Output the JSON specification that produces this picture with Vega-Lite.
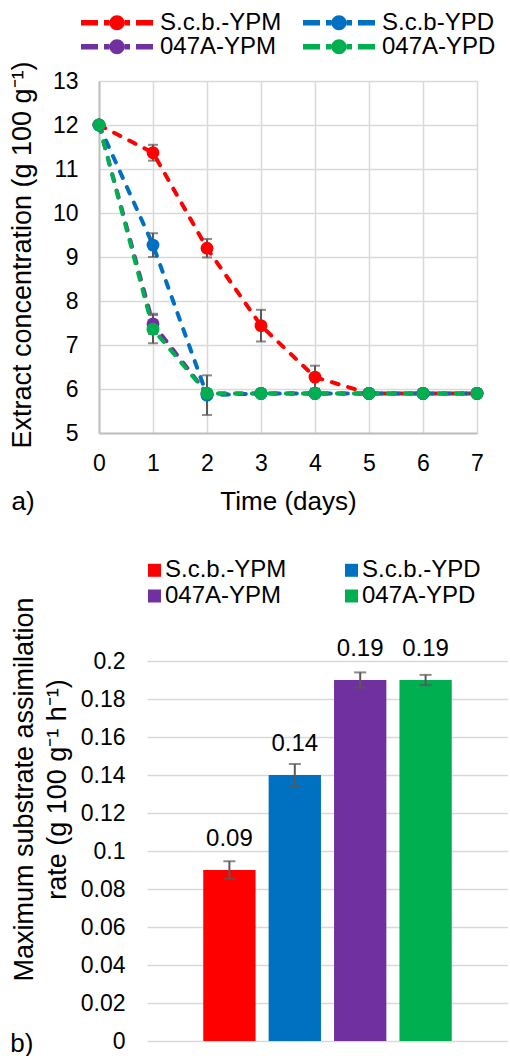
{
  "$schema": "https://vega.github.io/schema/vega-lite/v6.json",
  "padding": {"left": 8, "top": 10, "right": 0, "bottom": 0},
  "background": "white",
  "datasets": {
    "lines": [
      {"day": 0, "series": "S.c.b.-YPM", "value": 12, "err": 0},
      {"day": 1, "series": "S.c.b.-YPM", "value": 11.37, "err": 0.18},
      {"day": 2, "series": "S.c.b.-YPM", "value": 9.2, "err": 0.21},
      {"day": 3, "series": "S.c.b.-YPM", "value": 7.44, "err": 0.36},
      {"day": 4, "series": "S.c.b.-YPM", "value": 6.27, "err": 0.26},
      {"day": 5, "series": "S.c.b.-YPM", "value": 5.9, "err": 0},
      {"day": 6, "series": "S.c.b.-YPM", "value": 5.9, "err": 0},
      {"day": 7, "series": "S.c.b.-YPM", "value": 5.9, "err": 0},
      {"day": 0, "series": "S.c.b-YPD", "value": 12, "err": 0},
      {"day": 1, "series": "S.c.b-YPD", "value": 9.27, "err": 0.27},
      {"day": 2, "series": "S.c.b-YPD", "value": 5.86, "err": 0.45},
      {"day": 3, "series": "S.c.b-YPD", "value": 5.9, "err": 0},
      {"day": 4, "series": "S.c.b-YPD", "value": 5.9, "err": 0},
      {"day": 5, "series": "S.c.b-YPD", "value": 5.9, "err": 0},
      {"day": 6, "series": "S.c.b-YPD", "value": 5.9, "err": 0},
      {"day": 7, "series": "S.c.b-YPD", "value": 5.9, "err": 0},
      {"day": 0, "series": "047A-YPM", "value": 12, "err": 0},
      {"day": 1, "series": "047A-YPM", "value": 7.48, "err": 0.23},
      {"day": 2, "series": "047A-YPM", "value": 5.9, "err": 0},
      {"day": 3, "series": "047A-YPM", "value": 5.9, "err": 0},
      {"day": 4, "series": "047A-YPM", "value": 5.9, "err": 0},
      {"day": 5, "series": "047A-YPM", "value": 5.9, "err": 0},
      {"day": 6, "series": "047A-YPM", "value": 5.9, "err": 0},
      {"day": 7, "series": "047A-YPM", "value": 5.9, "err": 0},
      {"day": 0, "series": "047A-YPD", "value": 12, "err": 0},
      {"day": 1, "series": "047A-YPD", "value": 7.36, "err": 0.32},
      {"day": 2, "series": "047A-YPD", "value": 5.9, "err": 0},
      {"day": 3, "series": "047A-YPD", "value": 5.9, "err": 0},
      {"day": 4, "series": "047A-YPD", "value": 5.9, "err": 0},
      {"day": 5, "series": "047A-YPD", "value": 5.9, "err": 0},
      {"day": 6, "series": "047A-YPD", "value": 5.9, "err": 0},
      {"day": 7, "series": "047A-YPD", "value": 5.9, "err": 0}
    ],
    "bars": [
      {"series": "S.c.b.-YPM", "value": 0.09, "err": 0.0046},
      {"series": "S.c.b.-YPD", "value": 0.14, "err": 0.0058},
      {"series": "047A-YPM", "value": 0.19, "err": 0.004},
      {"series": "047A-YPD", "value": 0.19, "err": 0.0027}
    ]
  },
  "config": {
    "font": "Liberation Sans",
    "view": {"stroke": null},
    "axis": {
      "labelFont": "Liberation Sans",
      "titleFont": "Liberation Sans",
      "labelFontSize": 23,
      "titleFontSize": 27,
      "labelColor": "#000000",
      "titleColor": "#000000",
      "titleFontWeight": "normal",
      "gridColor": "#d9d9d9",
      "gridWidth": 1.5,
      "ticks": false,
      "tickSize": 0,
      "domainColor": "#bfbfbf",
      "domainWidth": 2,
      "labelOverlap": false
    },
    "legend": {
      "labelFont": "Liberation Sans",
      "labelFontSize": 24,
      "labelColor": "#000000",
      "labelLimit": 400
    },
    "title": {"font": "Liberation Sans", "fontSize": 26, "fontWeight": "normal", "color": "#000000"}
  },
  "columns": 1,
  "align": "none",
  "bounds": "full",
  "spacing": 43,
  "resolve": {"scale": {"color": "independent"}, "legend": {"color": "independent"}},
  "concat": [
    {
      "width": 378,
      "height": 352,
      "data": {"name": "lines"},
      "title": {"text": "a)", "orient": "bottom", "anchor": "start", "frame": "bounds", "offset": 0, "dy": -25, "dx": 3},
      "encoding": {
        "x": {"field": "day", "type": "quantitative", "scale": {"domain": [0, 7], "nice": false},
          "axis": {"title": "Time (days)", "titleFontSize": 26, "values": [0, 1, 2, 3, 4, 5, 6, 7], "labelPadding": 19, "titlePadding": 13, "grid": true, "domain": true, "labelFlush": false}},
        "y": {"field": "value", "type": "quantitative", "scale": {"domain": [5, 13], "nice": false, "zero": false},
          "axis": {"title": "Extract concentration (g 100 g⁻¹)", "values": [5, 6, 7, 8, 9, 10, 11, 12, 13], "labelPadding": 21, "titlePadding": 16, "titleY": 173.5, "grid": true, "domain": true}}
      },
      "layer": [
        {
          "transform": [{"filter": "datum.err > 0"}],
          "mark": {"type": "errorbar", "ticks": true, "size": 10, "thickness": 2, "color": "#595959"},
          "encoding": {
            "yError": {"field": "err"}
          }
        },
        {
          "mark": {"type": "line", "strokeWidth": 4, "strokeDash": [7, 10], "strokeCap": "round"},
          "encoding": {
            "color": {"field": "series", "type": "nominal",
              "scale": {"domain": ["S.c.b.-YPM", "S.c.b-YPD", "047A-YPM", "047A-YPD"], "range": ["#ff0000", "#0070c0", "#7030a0", "#00b050"]}}
          }
        },
        {
          "mark": {"type": "point", "filled": true, "opacity": 1, "size": 165, "shape": "circle"},
          "encoding": {
            "color": {"field": "series", "type": "nominal",
              "scale": {"domain": ["S.c.b.-YPM", "S.c.b-YPD", "047A-YPM", "047A-YPD"], "range": ["#ff0000", "#0070c0", "#7030a0", "#00b050"]},
              "legend": {
                "orient": "none", "legendX": -18, "legendY": -70.3, "columns": 2, "direction": "horizontal", "title": null,
                "symbolType": "M-2.4,-0.55H1V0.55H-2.4Z M2.2,-0.55H3.3V0.55H2.2Z M3.3,0A1.5,1.5,0,1,0,6.3,0A1.5,1.5,0,1,0,3.3,0Z M6.3,-0.55H7.4V0.55H6.3Z M8.6,-0.55H12V0.55H8.6Z",
                "symbolSize": 100, "symbolStrokeWidth": 0, "symbolOpacity": 1, "labelOffset": 55, "columnPadding": 21, "rowPadding": 0
              }}
          }
        }
      ]
    },
    {
      "width": 409,
      "height": 380,
      "data": {"name": "bars"},
      "title": {"text": "b)", "orient": "bottom", "anchor": "start", "frame": "bounds", "offset": 0, "dy": -22, "dx": 0},
      "encoding": {
        "x": {"field": "series", "type": "nominal", "sort": ["S.c.b.-YPM", "S.c.b.-YPD", "047A-YPM", "047A-YPD"],
          "scale": {"range": [48, 409], "paddingInner": 0.2, "paddingOuter": 0.86}, "axis": null},
        "y": {"field": "value", "type": "quantitative", "scale": {"domain": [0, 0.2], "nice": false},
          "axis": {"title": ["Maximum substrate assimilation", "rate (g 100 g⁻¹ h⁻¹)"], "values": [0, 0.02, 0.04, 0.06, 0.08, 0.1, 0.12, 0.14, 0.16, 0.18, 0.2], "format": "~g",
            "offset": -48, "labelPadding": 22, "titlePadding": 9, "titleLineHeight": 33, "titleY": 128, "grid": true, "domain": false}}
      },
      "layer": [
        {
          "mark": {"type": "bar"},
          "encoding": {
            "color": {"field": "series", "type": "nominal",
              "scale": {"domain": ["S.c.b.-YPM", "S.c.b.-YPD", "047A-YPM", "047A-YPD"], "range": ["#ff0000", "#0070c0", "#7030a0", "#00b050"]},
              "legend": {
                "orient": "none", "legendX": 43.5, "legendY": -102.7, "columns": 2, "direction": "horizontal", "title": null,
                "symbolType": "square", "symbolSize": 169, "symbolStrokeWidth": 0, "symbolOpacity": 1,
                "labelOffset": -1.5, "columnPadding": 53, "rowPadding": 1.7
              }}
          }
        },
        {
          "mark": {"type": "errorbar", "ticks": true, "size": 12, "thickness": 2, "color": "#595959"},
          "encoding": {
            "yError": {"field": "err"}
          }
        },
        {
          "mark": {"type": "text", "baseline": "alphabetic", "dy": -24, "fontSize": 24, "color": "#000000"},
          "encoding": {
            "text": {"field": "value", "type": "quantitative", "format": ".2f"}
          }
        }
      ]
    }
  ]
}
